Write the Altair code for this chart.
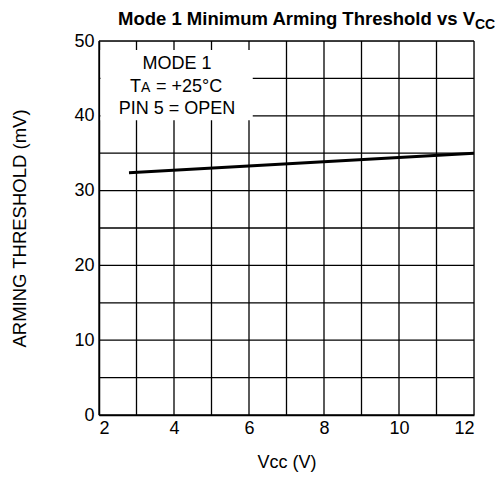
import altair as alt
import pandas as pd

vcc = [2.8, 12.0]
threshold = [32.4, 35.0]

x_ticks = [2, 4, 6, 8, 10, 12]
x_grid = [2, 3, 4, 5, 6, 7, 8, 9, 10, 11, 12]
y_ticks = [0, 10, 20, 30, 40, 50]
y_grid = [0, 5, 10, 15, 20, 25, 30, 35, 40, 45, 50]

title_main = "Mode 1 Minimum Arming Threshold vs V"
title_sub = "CC"
note_lines = ["MODE 1", "PIN 5 = OPEN"]
x_title = "Vcc (V)"
y_title = "ARMING THRESHOLD (mV)"

FONT = "Liberation Sans"
W, H = 375, 374

df = pd.DataFrame({"vcc": vcc, "thr": threshold})

xs = alt.Scale(domain=[2, 12], nice=False)
ys = alt.Scale(domain=[0, 50], nice=False)

x_axis = alt.Axis(values=x_ticks, title=x_title, grid=False, ticks=False,
                  labelFontSize=18, titleFontSize=18, labelPadding=4,
                  titlePadding=16, titleFontWeight="normal", labelColor="black",
                  titleColor="black", domainColor="black", domainWidth=1.5,
                  labelFont=FONT, titleFont=FONT)
y_axis = alt.Axis(values=y_ticks, title=y_title, grid=False, ticks=False,
                  labelFontSize=18, titleFontSize=18.5, labelPadding=5,
                  titlePadding=44, titleFontWeight="normal", labelColor="black",
                  titleColor="black", domainColor="black", domainWidth=1.5,
                  labelFont=FONT, titleFont=FONT)

vgrid = alt.Chart(pd.DataFrame({"g": x_grid})).mark_rule(color="black", strokeWidth=1.3).encode(
    x=alt.X("g:Q", scale=xs, axis=x_axis))
hgrid = alt.Chart(pd.DataFrame({"g": y_grid})).mark_rule(color="black", strokeWidth=1.3).encode(
    y=alt.Y("g:Q", scale=ys, axis=y_axis))

box = alt.Chart(pd.DataFrame({"x": [2.04], "x2": [6.1], "y": [48.8], "y2": [39.4]})).mark_rect(
    fill="white", stroke=None).encode(
    x=alt.X("x:Q", scale=xs), x2="x2:Q", y=alt.Y("y:Q", scale=ys), y2="y2:Q")

line = alt.Chart(df).mark_line(color="black", strokeWidth=3).encode(
    x=alt.X("vcc:Q", scale=xs), y=alt.Y("thr:Q", scale=ys))

def txt(s, x, y, size=18, align="left", weight="normal"):
    return alt.Chart(pd.DataFrame({"t": [s]})).mark_text(
        align=align, baseline="alphabetic", fontSize=size, font=FONT,
        fontWeight=weight, color="black").encode(
        x=alt.value(x), y=alt.value(y), text="t:N")

notes = (txt(note_lines[0], 78, 27.5, align="center")
         + txt("T", 31, 50.5)
         + txt("A", 42, 50.5, size=14)
         + txt("= +25°C", 57, 50.5)
         + txt(note_lines[1], 78, 72.5, align="center"))

title = (txt(title_main, 376, -16, size=18.5, align="right", weight="bold")
         + txt(title_sub, 376, -12, size=14, weight="bold"))

chart = alt.layer(vgrid, hgrid, box, line, notes, title).properties(
    width=W, height=H,
    autosize=alt.AutoSizeParams(type="none"),
    padding={"left": 91, "top": 33, "right": 21, "bottom": 62},
).configure_view(stroke="black", strokeWidth=1.5).configure(background="white")

chart.save("out.html", embed_options={"renderer": "svg", "actions": False})
